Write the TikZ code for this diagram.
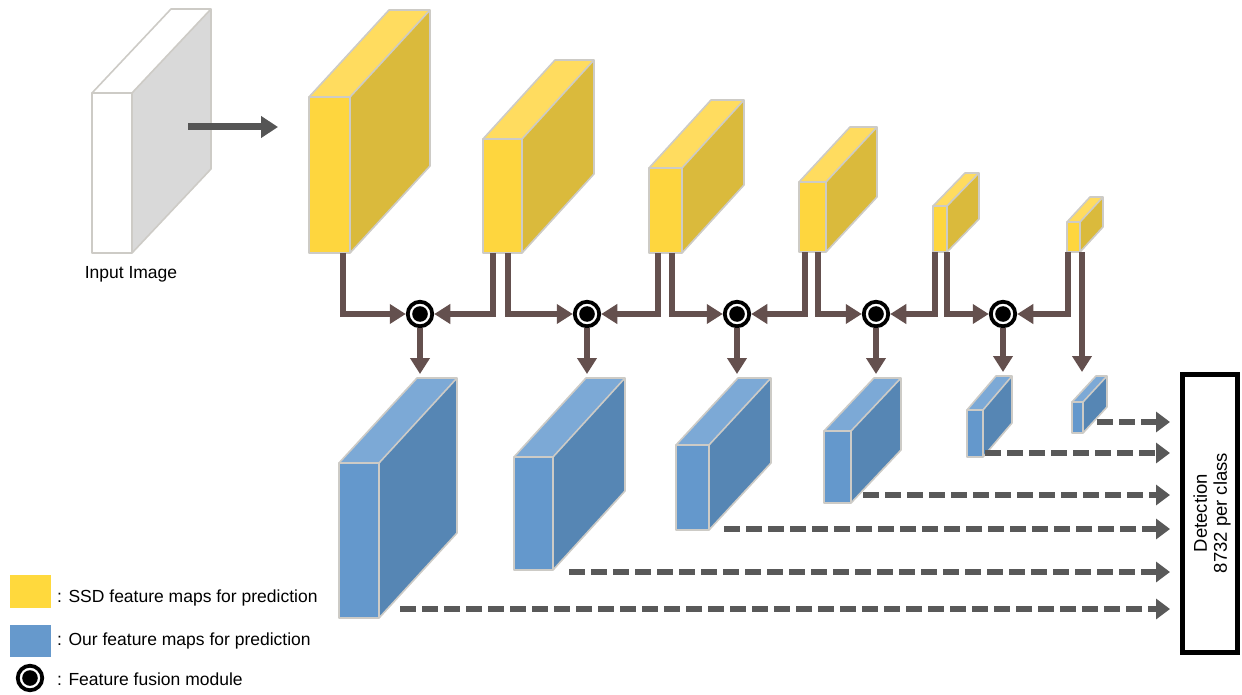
\documentclass[tikz,border=0pt]{standalone}
\usepackage{fontspec}
\setmainfont{Liberation Sans}
\usetikzlibrary{arrows.meta,calc}
\definecolor{yeltop}{RGB}{255,220,95}
\definecolor{yelfront}{RGB}{254,214,62}
\definecolor{yelside}{RGB}{218,186,60}
\definecolor{blutop}{RGB}{124,169,214}
\definecolor{blufront}{RGB}{100,152,204}
\definecolor{bluside}{RGB}{86,134,180}
\definecolor{inptop}{RGB}{255,255,255}
\definecolor{inpfront}{RGB}{255,255,255}
\definecolor{inpside}{RGB}{217,217,217}
\definecolor{edgec}{RGB}{205,203,198}
\definecolor{connc}{RGB}{100,80,78}
\definecolor{dashc}{RGB}{89,89,89}
\definecolor{bigc}{RGB}{85,85,85}
\definecolor{legyel}{RGB}{255,217,61}
\definecolor{legblu}{RGB}{102,153,204}
\newcommand\mycube[8]{%
  \fill[#8top] (#2,#4) -- (#2+#6,#4+#7) -- (#3+#6,#4+#7) -- (#3,#4) -- cycle;
  \fill[#8side] (#3,#4) -- (#3+#6,#4+#7) -- (#3+#6,#5+#7) -- (#3,#5) -- cycle;
  \draw[edge] (#2,#4) -- (#2+#6,#4+#7) -- (#3+#6,#4+#7) -- (#3+#6,#5+#7) -- (#3,#5);
  \draw[edge] (#3,#4) -- (#3+#6,#4+#7);
  \node[facebox, fill=#8front, minimum width={#3-#2}, minimum height={#5-#4}, anchor=north west] (#1) at (#2,#4) {};
  \coordinate (#1back) at (#3+#6,#4+#7);
}
\tikzset{
  edge/.style={draw=edgec, line width=1.6pt, line join=round},
  facebox/.style={draw=edgec, line width=1.6pt, line join=round, inner sep=0pt, outer sep=0pt},
  conn/.style={draw=connc, line width=5.5pt, -{Triangle[length=16pt,width=19pt]}},
  dasharrow/.style={draw=dashc, line width=5.5pt, dash pattern=on 16pt off 6pt, -{Triangle[length=14pt,width=20pt]}, shorten >=10pt},
  bigarrow/.style={draw=bigc, line width=7pt, -{Triangle[length=17pt,width=21pt]}},
  fusion/.style={circle, draw=black, line width=3.8pt, fill=white, minimum size=24.5pt, inner sep=0pt, outer sep=2pt,
    path picture={\fill[black] (path picture bounding box.center) circle (7.8);}},
  txt/.style={font=\fontsize{17.5}{21}\selectfont, inner sep=0pt},
}
\begin{document}
\begin{tikzpicture}[x=1pt,y=-1pt]
\useasboundingbox (0,0) rectangle (1242,695);
% input and SSD feature maps
\mycube{inp}{92}{132}{93}{253}{79}{-84}{inp}
\mycube{y1}{309}{350}{97}{253}{80}{-87}{yel}
\mycube{y2}{483}{522}{139}{253}{72}{-79}{yel}
\mycube{y3}{649}{682}{168}{253}{62}{-68}{yel}
\mycube{y4}{799}{826}{182}{252}{51}{-55}{yel}
\mycube{y5}{933}{947}{206}{252}{32}{-33}{yel}
\mycube{y6}{1067}{1080}{222}{252}{23}{-25}{yel}
% our feature maps
\mycube{b1}{339}{379}{463}{618}{78}{-85}{blu}
\mycube{b2}{514}{553}{457}{570}{72}{-79}{blu}
\mycube{b3}{676}{709}{445}{530}{62}{-67}{blu}
\mycube{b4}{824}{851}{431}{503}{50}{-53}{blu}
\mycube{b5}{967}{983}{410}{457}{29}{-34}{blu}
\mycube{b6}{1072}{1083}{402}{433}{24}{-26}{blu}

\node[txt, anchor=base] (inlabel) at (131,278) {Input Image};
\coordinate (inpa) at (188,127);
\draw[bigarrow, shorten >=31pt] (inpa) -- (y1.west |- inpa);

% fusion modules
\node[fusion] (f1) at (420,314) {};
\node[fusion] (f2) at (587,314) {};
\node[fusion] (f3) at (737,314) {};
\node[fusion] (f4) at (876,314) {};
\node[fusion] (f5) at (1003,314) {};

\draw[conn] ([xshift=34pt]y1.south west) |- (f1.west);
\draw[conn] ([xshift=10pt]y2.south west) |- (f1.east);
\draw[conn] ([xshift=25pt]y2.south west) |- (f2.west);
\draw[conn] ([xshift=9pt]y3.south west) |- (f2.east);
\draw[conn] ([xshift=23pt]y3.south west) |- (f3.west);
\draw[conn] ([xshift=6pt]y4.south west) |- (f3.east);
\draw[conn] ([xshift=19pt]y4.south west) |- (f4.west);
\draw[conn] ([xshift=2pt]y5.south west) |- (f4.east);
\draw[conn] ([xshift=14pt]y5.south west) |- (f5.west);
\draw[conn] ([xshift=1pt]y6.south west) |- (f5.east);
\coordinate (y6r) at ([xshift=15pt]y6.south west);
\draw[conn, shorten >=4pt] (y6r) -- (y6r |- b6back);

\draw[conn, shorten >=4pt] (f1.south) -- (f1.south |- b1back);
\draw[conn, shorten >=4pt] (f2.south) -- (f2.south |- b2back);
\draw[conn, shorten >=4pt] (f3.south) -- (f3.south |- b3back);
\draw[conn, shorten >=4pt] (f4.south) -- (f4.south |- b4back);
\draw[conn, shorten >=4pt] (f5.south) -- (f5.south |- b5back);

% detection
\node[draw=black, line width=5pt, minimum width=55pt, minimum height=278pt, inner sep=0pt, outer sep=2.5pt] (det) at (1210,513.5) {};
\node[rotate=90, align=center, font=\fontsize{18.5}{20}\selectfont, inner sep=0pt] (dettxt) at (1212,513) {Detection\\8732 per class};

\coordinate (d6) at (1097,422);
\coordinate (d5) at (985,453);
\coordinate (d4) at (863,495);
\coordinate (d3) at (724,529);
\coordinate (d2) at (569,572);
\coordinate (d1) at (400,609);
\foreach \i in {1,...,6}{
  \draw[dasharrow] (d\i) -- (det.west |- d\i);
}

% legend
\fill[legyel] (10,575) rectangle (51,608);
\fill[legblu] (10,625) rectangle (51,657);
\node[fusion] (lf) at (30,678) {};
\node[txt, anchor=base west] (l1) at (57,602) {: SSD feature maps for prediction};
\node[txt, anchor=base west] (l2) at (57,645) {: Our feature maps for prediction};
\node[txt, anchor=base west] (l3) at (57,685) {: Feature fusion module};
\end{tikzpicture}
\end{document}
